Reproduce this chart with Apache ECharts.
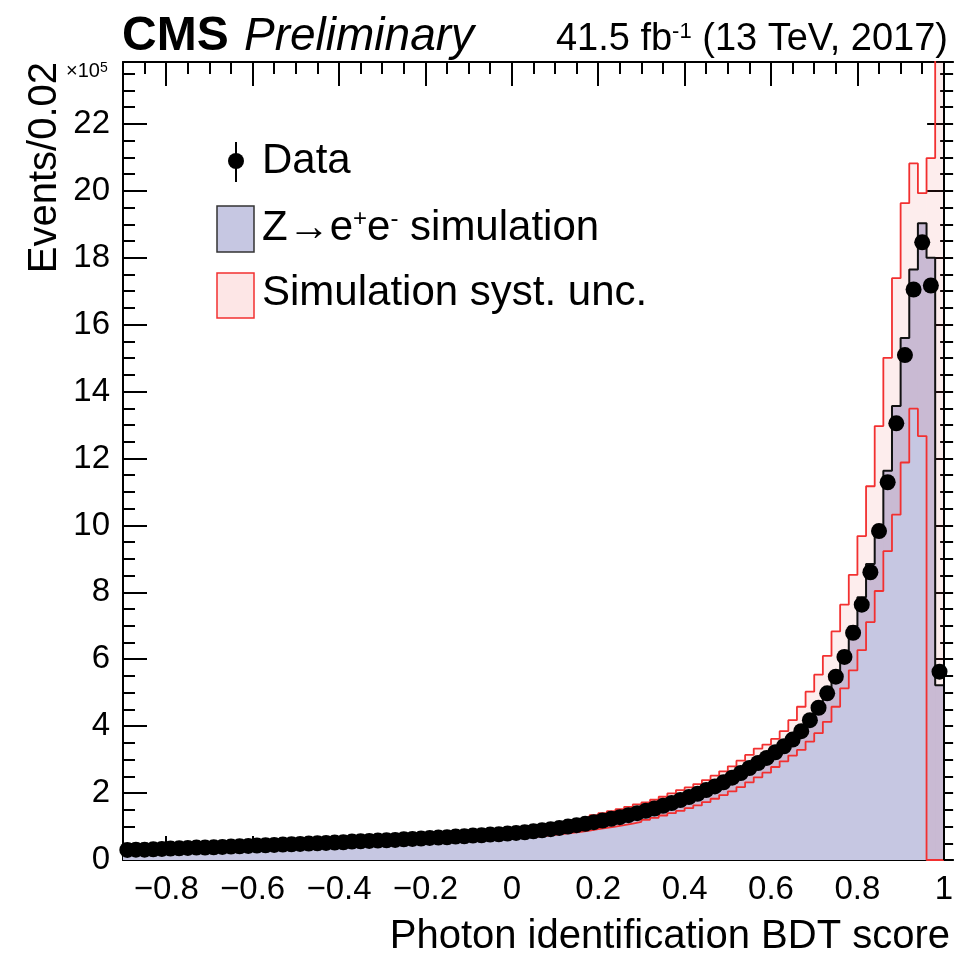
<!DOCTYPE html>
<html>
<head>
<meta charset="utf-8">
<script src="https://cdn.jsdelivr.net/npm/echarts@6/dist/echarts.min.js"></script>
<style>
  html, body { margin: 0; padding: 0; background: #fff; }
  #chart { width: 956px; height: 961px; }
</style>
</head>
<body>
<div id="chart"></div>
<script>
// Binning of the photon identification BDT score: 95 bins of width 0.02 from -0.9 to 1.0
const BIN_MIN = -0.9;
const BIN_WIDTH = 0.02;

// Events per bin, in units of 10^5
const dataEvents = [
  0.30, 0.31, 0.31, 0.32, 0.33, 0.34, 0.35, 0.36, 0.37, 0.37,
  0.38, 0.39, 0.40, 0.41, 0.42, 0.43, 0.44, 0.45, 0.46, 0.47,
  0.48, 0.49, 0.50, 0.51, 0.52, 0.53, 0.55, 0.56, 0.57, 0.58,
  0.59, 0.60, 0.62, 0.63, 0.64, 0.66, 0.67, 0.68, 0.70, 0.71,
  0.73, 0.74, 0.76, 0.77, 0.79, 0.81, 0.83, 0.86, 0.89, 0.92,
  0.96, 1.00, 1.04, 1.08, 1.13, 1.18, 1.23, 1.28, 1.34, 1.40,
  1.47, 1.54, 1.62, 1.70, 1.79, 1.88, 1.98, 2.09, 2.20, 2.32,
  2.46, 2.60, 2.75, 2.90, 3.05, 3.22, 3.40, 3.60, 3.85, 4.18,
  4.55, 4.98, 5.48, 6.07, 6.79, 7.63, 8.60, 9.83, 11.29, 13.05,
  15.09, 17.05, 18.46, 17.17, 5.63
];

const simEvents = [
  0.30, 0.31, 0.31, 0.32, 0.33, 0.34, 0.35, 0.36, 0.36, 0.37,
  0.38, 0.39, 0.40, 0.41, 0.42, 0.43, 0.44, 0.45, 0.46, 0.47,
  0.48, 0.49, 0.50, 0.51, 0.52, 0.53, 0.54, 0.55, 0.56, 0.57,
  0.59, 0.60, 0.61, 0.62, 0.64, 0.65, 0.66, 0.68, 0.69, 0.71,
  0.72, 0.74, 0.75, 0.77, 0.79, 0.81, 0.83, 0.85, 0.88, 0.91,
  0.95, 0.99, 1.03, 1.07, 1.12, 1.17, 1.22, 1.28, 1.34, 1.40,
  1.47, 1.54, 1.62, 1.70, 1.79, 1.88, 1.98, 2.09, 2.21, 2.33,
  2.47, 2.62, 2.77, 2.93, 3.09, 3.27, 3.46, 3.67, 3.93, 4.28,
  4.66, 5.10, 5.62, 6.24, 6.98, 7.85, 8.85, 10.00, 11.63, 13.57,
  15.60, 17.65, 19.03, 18.00, 5.22
];

const systUp = [
  0.35, 0.36, 0.36, 0.37, 0.38, 0.39, 0.40, 0.41, 0.42, 0.43,
  0.44, 0.45, 0.46, 0.47, 0.48, 0.49, 0.51, 0.52, 0.53, 0.54,
  0.55, 0.56, 0.57, 0.59, 0.60, 0.61, 0.62, 0.64, 0.65, 0.66,
  0.68, 0.69, 0.71, 0.72, 0.74, 0.75, 0.77, 0.79, 0.80, 0.82,
  0.84, 0.86, 0.88, 0.90, 0.92, 0.95, 0.98, 1.01, 1.04, 1.08,
  1.13, 1.18, 1.23, 1.28, 1.34, 1.40, 1.46, 1.52, 1.59, 1.66,
  1.72, 1.80, 1.89, 1.99, 2.09, 2.17, 2.27, 2.39, 2.52, 2.65,
  2.80, 2.97, 3.14, 3.33, 3.45, 3.62, 3.85, 4.18, 4.58, 5.03,
  5.54, 6.10, 6.83, 7.63, 8.52, 9.68, 11.17, 12.97, 15.01, 17.39,
  19.63, 20.82, 19.93, 20.98, 26.00
];

const systDown = [
  0.25, 0.26, 0.26, 0.27, 0.27, 0.28, 0.29, 0.30, 0.30, 0.31,
  0.32, 0.32, 0.33, 0.34, 0.35, 0.36, 0.36, 0.37, 0.38, 0.39,
  0.40, 0.40, 0.41, 0.42, 0.43, 0.44, 0.45, 0.46, 0.47, 0.48,
  0.49, 0.50, 0.51, 0.52, 0.53, 0.54, 0.55, 0.56, 0.57, 0.59,
  0.60, 0.61, 0.62, 0.64, 0.65, 0.67, 0.69, 0.70, 0.72, 0.75,
  0.78, 0.81, 0.84, 0.88, 0.92, 0.96, 1.00, 1.04, 1.09, 1.14,
  1.20, 1.26, 1.33, 1.40, 1.47, 1.55, 1.63, 1.73, 1.83, 1.94,
  2.05, 2.18, 2.32, 2.47, 2.61, 2.78, 2.95, 3.12, 3.29, 3.54,
  3.79, 4.13, 4.58, 5.13, 5.67, 6.27, 7.11, 8.04, 9.23, 10.32,
  11.88, 13.49, 12.67, 0.00, 0.00
];

// Axis ticks
const xMajorTicks = [-0.8, -0.6, -0.4, -0.2, 0, 0.2, 0.4, 0.6, 0.8, 1];
const xMinorTicks = [-0.85, -0.75, -0.7, -0.65, -0.55, -0.5, -0.45, -0.35, -0.3, -0.25,
  -0.15, -0.1, -0.05, 0.05, 0.1, 0.15, 0.25, 0.3, 0.35, 0.45, 0.5, 0.55,
  0.65, 0.7, 0.75, 0.85, 0.9, 0.95];
const yMajorTicks = [0, 2, 4, 6, 8, 10, 12, 14, 16, 18, 20, 22];
const yMinorTicks = [0.5, 1, 1.5, 2.5, 3, 3.5, 4.5, 5, 5.5, 6.5, 7, 7.5, 8.5, 9, 9.5,
  10.5, 11, 11.5, 12.5, 13, 13.5, 14.5, 15, 15.5, 16.5, 17, 17.5, 18.5, 19, 19.5,
  20.5, 21, 21.5, 22.5, 23, 23.5];

const X_MIN = -0.9, X_MAX = 1.0215, Y_MIN = 0, Y_MAX = 23.85;
const FONT = '"Liberation Sans", Arial, Helvetica, sans-serif';
const SIM_FILL = 'rgb(198,199,226)';
const BAND_FILL = 'rgba(240,80,80,0.10)';
const BAND_LINE = '#f23030';

const nBins = dataEvents.length;
const lowEdge = i => +(BIN_MIN + i * BIN_WIDTH).toFixed(4);
const center = i => +(BIN_MIN + (i + 0.5) * BIN_WIDTH).toFixed(4);

// step outlines: one point per low edge, plus the closing high edge
function stepData(values) {
  const pts = values.map((v, i) => [lowEdge(i), v]);
  pts.push([lowEdge(nBins), values[nBins - 1]]);
  return pts;
}

const bandBoxes = systUp.map((u, i) => [lowEdge(i), lowEdge(i + 1), systDown[i], u]);
const dataPoints = dataEvents.map((v, i) => [center(i), v]);

function xLabel(v) {
  if (Math.abs(v) < 1e-9) return '0';
  const s = String(+Math.abs(v).toFixed(2));
  return v < 0 ? '\u2212' + s : s;
}

const tickLine = { color: '#000', width: 2 };

function xAxisDef(position, ticks, len, showLine, showLabel) {
  return {
    type: 'value', min: X_MIN, max: X_MAX, position: position,
    axisLine: { show: showLine, onZero: false, lineStyle: { color: '#000', width: 2 } },
    axisTick: { show: true, inside: true, length: len, customValues: ticks, lineStyle: tickLine },
    axisLabel: showLabel ? {
      show: true, customValues: ticks, formatter: xLabel, margin: 13,
      color: '#000', fontSize: 33, fontFamily: FONT
    } : { show: false },
    splitLine: { show: false }, minorTick: { show: false }
  };
}

function yAxisDef(position, ticks, len, showLine, showLabel) {
  return {
    type: 'value', min: Y_MIN, max: Y_MAX, position: position,
    axisLine: { show: showLine, onZero: false, lineStyle: { color: '#000', width: 2 } },
    axisTick: { show: true, inside: true, length: len, customValues: ticks, lineStyle: tickLine },
    axisLabel: showLabel ? {
      show: true, customValues: ticks, margin: 13,
      color: '#000', fontSize: 33, fontFamily: FONT
    } : { show: false },
    splitLine: { show: false }, minorTick: { show: false }
  };
}

const chart = echarts.init(document.getElementById('chart'), null, { renderer: 'canvas' });

const option = {
  animation: false,
  backgroundColor: '#fff',
  grid: { left: 123, right: 0, top: 62, bottom: 101, containLabel: false },
  xAxis: [
    xAxisDef('bottom', xMajorTicks, 24, true, true),
    xAxisDef('bottom', xMinorTicks, 12, false, false),
    xAxisDef('top', xMajorTicks, 24, true, false),
    xAxisDef('top', xMinorTicks, 12, false, false)
  ],
  yAxis: [
    yAxisDef('left', yMajorTicks, 24, true, true),
    yAxisDef('left', yMinorTicks, 12, false, false),
    yAxisDef('right', yMajorTicks, 26, false, false),
    yAxisDef('right', yMinorTicks, 13, false, false)
  ],
  series: [
    {
      // Z->ee simulation, filled histogram
      name: 'sim-fill', type: 'line', step: 'end', data: stepData(simEvents),
      symbol: 'none', lineStyle: { width: 0, opacity: 0 },
      areaStyle: { color: SIM_FILL, opacity: 1, origin: 'start' },
      z: 1, silent: true
    },
    {
      // systematic uncertainty band
      name: 'syst-fill', type: 'custom', data: bandBoxes, clip: true, z: 2, silent: true,
      renderItem: function (params, api) {
        const p0 = api.coord([api.value(0), api.value(3)]);
        const p1 = api.coord([api.value(1), api.value(2)]);
        const shape = echarts.graphic.clipRectByRect(
          { x: p0[0], y: p0[1], width: p1[0] - p0[0], height: p1[1] - p0[1] },
          { x: params.coordSys.x, y: params.coordSys.y, width: params.coordSys.width, height: params.coordSys.height }
        );
        return shape && { type: 'rect', shape: shape, style: { fill: BAND_FILL } };
      }
    },
    {
      name: 'syst-up', type: 'line', step: 'end', data: stepData(systUp),
      symbol: 'none', lineStyle: { color: BAND_LINE, width: 1.8 }, z: 3, silent: true
    },
    {
      name: 'syst-down', type: 'line', step: 'end', data: stepData(systDown),
      symbol: 'none', lineStyle: { color: BAND_LINE, width: 1.8 }, z: 3, silent: true
    },
    {
      // simulation outline
      name: 'sim-line', type: 'line', step: 'end', data: stepData(simEvents),
      symbol: 'none', lineStyle: { color: '#111', width: 2 }, z: 4, silent: true,
      markLine: {
        silent: true, symbol: 'none', label: { show: false },
        lineStyle: { color: '#000', width: 2, type: 'solid' },
        data: [{ xAxis: 1 }]
      }
    },
    {
      name: 'Data', type: 'scatter', data: dataPoints, symbol: 'circle', symbolSize: 16,
      itemStyle: { color: '#000', opacity: 1 }, z: 5, silent: true
    }
  ],
  graphic: [
    { type: 'text', z: 10, style: { x: 122, y: 37, text: 'CMS', font: 'bold 48px ' + FONT, fill: '#000', textVerticalAlign: 'middle' } },
    { type: 'text', z: 10, style: { x: 244, y: 37, text: 'Preliminary', font: 'italic 46px ' + FONT, fill: '#000', textVerticalAlign: 'middle' } },
    { type: 'text', z: 10, style: {
        x: 948, y: 40, text: '41.5 fb{sup|-1} (13 TeV, 2017)', font: '38px ' + FONT, fill: '#000',
        textAlign: 'right', textVerticalAlign: 'middle',
        rich: { sup: { fontSize: 22, fontFamily: FONT, verticalAlign: 'top', fill: '#000' } }
    } },
    { type: 'text', z: 10, style: {
        x: 66, y: 71, text: '\u00d710{sup|5}', font: '20px ' + FONT, fill: '#000', textVerticalAlign: 'middle',
        rich: { sup: { fontSize: 14, fontFamily: FONT, verticalAlign: 'top', fill: '#000' } }
    } },
    { type: 'text', z: 10, rotation: Math.PI / 2, x: 45, y: 62, style: {
        x: 0, y: 0, text: 'Events/0.02', font: '40px ' + FONT, fill: '#000', textAlign: 'right', textVerticalAlign: 'middle'
    } },
    { type: 'text', z: 10, style: { x: 950, y: 937, text: 'Photon identification BDT score', font: '40px ' + FONT, fill: '#000', textAlign: 'right', textVerticalAlign: 'middle' } },

    // legend
    { type: 'line', z: 10, shape: { x1: 236, y1: 142, x2: 236, y2: 182 }, style: { stroke: '#000', lineWidth: 2 } },
    { type: 'circle', z: 10, shape: { cx: 236, cy: 161, r: 8 }, style: { fill: '#000' } },
    { type: 'text', z: 10, style: { x: 262, y: 161, text: 'Data', font: '42px ' + FONT, fill: '#000', textVerticalAlign: 'middle' } },
    { type: 'rect', z: 10, shape: { x: 217, y: 206, width: 37, height: 46 }, style: { fill: SIM_FILL, stroke: '#333', lineWidth: 1.5 } },
    { type: 'text', z: 10, style: {
        x: 262, y: 228, text: 'Z\u2192e{sup|+}e{sup|-} simulation', font: '42px ' + FONT, fill: '#000', textVerticalAlign: 'middle',
        rich: { sup: { fontSize: 24, fontFamily: FONT, verticalAlign: 'top', fill: '#000' } }
    } },
    { type: 'rect', z: 10, shape: { x: 217, y: 273, width: 37, height: 45 }, style: { fill: 'rgba(240,80,80,0.14)', stroke: BAND_LINE, lineWidth: 1.5 } },
    { type: 'text', z: 10, style: { x: 262, y: 293, text: 'Simulation syst. unc.', font: '42px ' + FONT, fill: '#000', textVerticalAlign: 'middle' } }
  ]
};

chart.setOption(option);
</script>
</body>
</html>
